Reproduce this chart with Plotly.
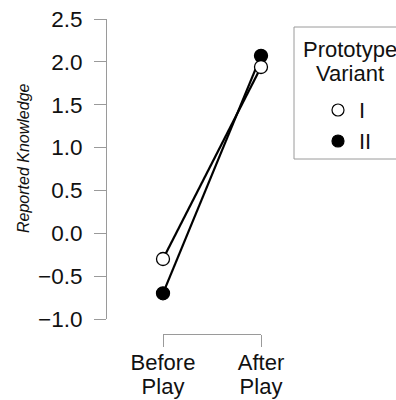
import plotly.graph_objects as go

phases = ["Before Play", "After Play"]
variant_names = ["I", "II"]
values_I = [-0.30, 1.94]
values_II = [-0.70, 2.07]
y_ticks = [-1.0, -0.5, 0.0, 0.5, 1.0, 1.5, 2.0, 2.5]
y_title = "Reported Knowledge"
legend_title_lines = ["Prototype", "Variant"]

FONT = "Liberation Sans, Arial, sans-serif"
W, H = 396, 400
TXT = "#111111"
AX = "#9a9a9a"

def px(x):
    return x / W

def py(y):
    return (H - y) / H

fig = go.Figure()
# II drawn first so I sits on top
fig.add_trace(go.Scatter(
    x=phases, y=values_II, name=variant_names[1], mode="lines+markers",
    line=dict(color="black", width=2.2),
    marker=dict(size=13, color="black", line=dict(color="black", width=1.3)),
    cliponaxis=False, showlegend=False, hoverinfo="skip"))
fig.add_trace(go.Scatter(
    x=phases, y=values_I, name=variant_names[0], mode="lines+markers",
    line=dict(color="black", width=2.2),
    marker=dict(size=13, color="white", line=dict(color="black", width=1.3)),
    cliponaxis=False, showlegend=False, hoverinfo="skip"))
# carrier for the second line of the category labels
fig.add_trace(go.Scatter(x=list(range(len(phases))), y=[None] * len(phases),
                         xaxis="x2", showlegend=False, hoverinfo="skip"))

first_words = [p.split(" ")[0] for p in phases]
second_words = [p.split(" ")[1] for p in phases]

X_AXIS_Y = 334
common_x = dict(showgrid=False, zeroline=False, ticklen=12, tickwidth=1,
                ticklabelstandoff=-3,
                tickfont=dict(size=22, family=FONT, color=TXT))
fig.update_layout(
    width=W, height=H,
    margin=dict(l=0, r=0, t=0, b=0, autoexpand=False),
    plot_bgcolor="white", paper_bgcolor="white",
    font=dict(family=FONT, size=22, color=TXT),
    showlegend=False,
    xaxis=dict(domain=[px(163), px(261)], range=[0, 1], type="category",
               anchor="free", position=py(X_AXIS_Y),
               tickvals=phases, ticktext=first_words,
               showline=True, linecolor=AX, linewidth=1,
               ticks="outside", tickcolor=AX, **common_x),
    xaxis2=dict(overlaying="x", range=[0, 1], type="linear",
                anchor="free", position=py(X_AXIS_Y + 24),
                tickvals=list(range(len(phases))), ticktext=second_words,
                showline=False, ticks="outside", tickcolor="rgba(0,0,0,0)",
                **common_x),
    yaxis=dict(domain=[py(319), py(19)], range=[-1, 2.5],
               anchor="free", position=px(106),
               tickvals=y_ticks, tickformat=".1f",
               showline=True, linecolor=AX, linewidth=1,
               ticks="outside", ticklen=12, tickcolor=AX, tickwidth=1,
               showgrid=False, zeroline=False, ticklabelstandoff=7,
               tickfont=dict(size=22.5, family=FONT, color=TXT)),
)

# y-axis title
fig.add_annotation(text="<i>" + y_title + "</i>", x=px(23), y=py(158),
                   xref="paper", yref="paper", textangle=-90, showarrow=False,
                   xanchor="center", yanchor="middle",
                   font=dict(size=16, family=FONT, color=TXT))

# legend (box, title, keys, labels)
fig.add_shape(type="rect", xref="paper", yref="paper",
              x0=px(294), x1=px(402), y0=py(159), y1=py(27),
              line=dict(color=AX, width=1), fillcolor="white", layer="below")
for i, line in enumerate(legend_title_lines):
    fig.add_annotation(text=line, x=px(350), y=py(49 + 24 * i), xref="paper", yref="paper",
                       showarrow=False, xanchor="center", yanchor="middle",
                       font=dict(size=22, family=FONT, color=TXT))
key_y = [110, 141]
key_fill = ["white", "black"]
for name, ky, fc in zip(variant_names, key_y, key_fill):
    r = 6
    fig.add_shape(type="circle", xref="paper", yref="paper",
                  x0=px(338 - r), x1=px(338 + r), y0=py(ky + r), y1=py(ky - r),
                  line=dict(color="black", width=1.2), fillcolor=fc)
    fig.add_annotation(text=name, x=px(357), y=py(ky), xref="paper", yref="paper",
                       showarrow=False, xanchor="left", yanchor="middle",
                       font=dict(size=22, family=FONT, color=TXT))

fig.write_html("out.html", config={"displayModeBar": False},
               post_script="document.body.style.margin='0';")
